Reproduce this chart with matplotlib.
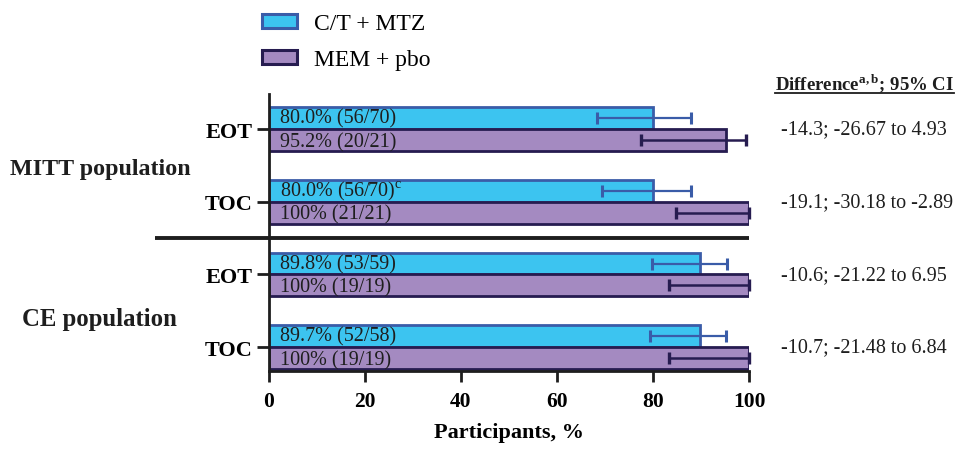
import matplotlib.pyplot as plt
import matplotlib.patches as mpatches
import numpy as np

plt.rcParams['font.family'] = ['Liberation Serif', 'DejaVu Serif']
plt.rcParams['mathtext.fontset'] = 'custom'
plt.rcParams['mathtext.rm'] = 'Liberation Serif'
plt.rcParams['mathtext.bf'] = 'Liberation Serif:bold'

# data (top to bottom)
timepoints = ['EOT', 'TOC', 'EOT', 'TOC']
populations = ['MITT population', 'CE population']
ct_vals = [80.0, 80.0, 89.8, 89.7]
ct_lo = [68.3, 69.4, 79.7, 79.4]
ct_hi = [87.9, 87.9, 95.4, 95.2]
ct_labels = ['80.0% (56/70)', '80.0% (56/70)$^{\\mathrm{c}}$', '89.8% (53/59)', '89.7% (52/58)']
mem_vals = [95.2, 100.0, 100.0, 100.0]
mem_lo = [77.4, 84.7, 83.3, 83.3]
mem_hi = [99.4, 100.0, 100.0, 100.0]
mem_labels = ['95.2% (20/21)', '100% (21/21)', '100% (19/19)', '100% (19/19)']
diff_labels = ['-14.3; -26.67 to 4.93', '-19.1; -30.18 to -2.89',
               '-10.6; -21.22 to 6.95', '-10.7; -21.48 to 6.84']

ct_face, ct_edge = '#3CC4F0', '#3A5CA8'
mem_face, mem_edge = '#A48AC1', '#261C50'
dark = '#1e1e1e'

fig = plt.figure(figsize=(9.64, 4.6), dpi=100)
ax = fig.add_axes([0.279, 0.191, 0.498, 0.602])

y = np.arange(len(timepoints))
h = 0.3
ax.barh(y - h / 2, ct_vals, height=h, color=ct_face, edgecolor=ct_edge, linewidth=2)
ax.barh(y + h / 2, mem_vals, height=h, color=mem_face, edgecolor=mem_edge, linewidth=2)

ct_err = [np.array(ct_vals) - np.array(ct_lo), np.array(ct_hi) - np.array(ct_vals)]
mem_err = [np.array(mem_vals) - np.array(mem_lo), np.array(mem_hi) - np.array(mem_vals)]
ax.errorbar(ct_vals, y - h / 2, xerr=ct_err, fmt='none', ecolor=ct_edge,
            elinewidth=1.6, capsize=4.5, capthick=2.2, clip_on=False)
ax.errorbar(mem_vals, y + h / 2, xerr=mem_err, fmt='none', ecolor=mem_edge,
            elinewidth=1.8, capsize=4.5, capthick=2.4, clip_on=False)

for i in range(len(y)):
    ax.text(2.4, y[i] - h / 2, ct_labels[i], va='center', ha='left', fontsize=14.5, color=dark)
    ax.text(2.4, y[i] + h / 2 + 0.02, mem_labels[i], va='center', ha='left', fontsize=14.5, color=dark)

ax.set_xlim(0, 100)
ax.set_ylim(3.33, -0.48)
ax.set_yticks(y)
ax.set_yticklabels(timepoints, fontsize=16, fontweight='bold')
ax.set_xticks([0, 20, 40, 60, 80, 100])
ax.set_xticklabels(['0', '20', '40', '60', '80', '100'], fontsize=15.5, fontweight='bold')
ax.tick_params(axis='y', length=9, width=2, color=dark, pad=3)
ax.tick_params(axis='x', length=8, width=2, color=dark, pad=6)
ax.set_xlabel('Participants, %', fontsize=16, fontweight='bold', labelpad=8)

for s in ['top', 'right']:
    ax.spines[s].set_visible(False)
for s in ['left', 'bottom']:
    ax.spines[s].set_linewidth(2)
    ax.spines[s].set_color(dark)

# separator between populations
trans = ax.get_yaxis_transform()
ax.plot([-0.2375, 1.0], [1.5, 1.5], transform=trans, color=dark, linewidth=2.8,
        clip_on=False, solid_capstyle='butt')

# population labels
ax.text(-0.54, 0.54, populations[0], transform=trans, fontsize=17.3, fontweight='bold',
        ha='left', va='center', color=dark)
ax.text(-0.515, 2.6, populations[1], transform=trans, fontsize=17.8, fontweight='bold',
        ha='left', va='center', color=dark)

# difference column
for i in range(len(y)):
    ax.text(1.067, y[i], diff_labels[i], transform=trans, fontsize=14.5,
            ha='left', va='center', color=dark)
hdr = fig.text(0.804, 0.792, 'Difference$^{\\mathbf{a,b}}$; 95% CI', fontsize=13.5,
               fontweight='bold', ha='left', va='bottom', color=dark)
fig.canvas.draw()
bb = hdr.get_window_extent().transformed(fig.transFigure.inverted())
fig.add_artist(plt.Line2D([bb.x0, bb.x1], [bb.y0 + 0.004, bb.y0 + 0.004],
                          transform=fig.transFigure, color=dark, linewidth=1.3))

# legend
handles = [mpatches.Patch(facecolor=ct_face, edgecolor=ct_edge, linewidth=2.2, label='C/T + MTZ'),
           mpatches.Patch(facecolor=mem_face, edgecolor=mem_edge, linewidth=2.2, label='MEM + pbo')]
fig.legend(handles=handles, loc='upper left', bbox_to_anchor=(0.262, 0.99), frameon=False,
           fontsize=17, handlelength=1.5, handleheight=0.55, handletextpad=0.7,
           labelspacing=0.65, borderaxespad=0)

fig.savefig('out.png', dpi=100)
